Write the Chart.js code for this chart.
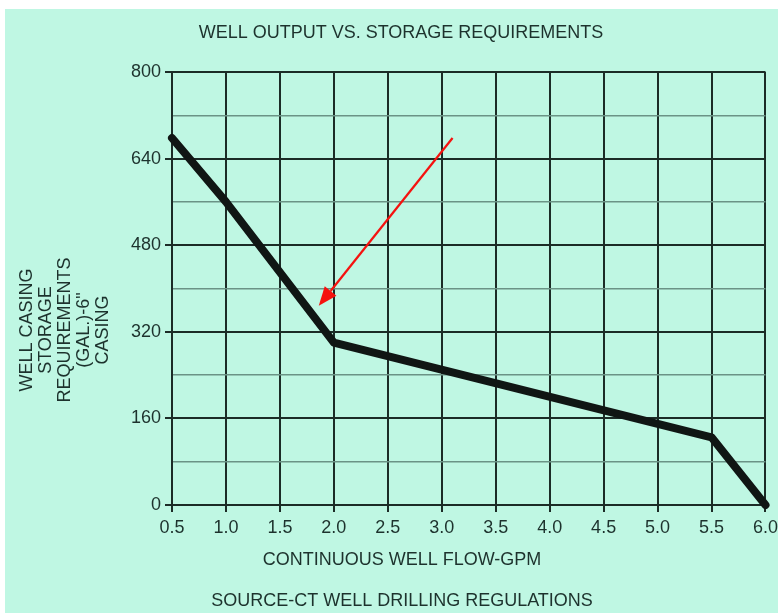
<!DOCTYPE html>
<html>
<head>
<meta charset="utf-8">
<script src="https://cdn.jsdelivr.net/npm/chart.js@4.4.1/dist/chart.umd.min.js"></script>
<style>
html, body { margin: 0; padding: 0; background: #fff; }
#wrap { width: 783px; height: 613px; }
</style>
</head>
<body>
<div id="wrap"><canvas id="well-chart" width="783" height="613"></canvas></div>
<script>
// flow (gpm) vs. casing storage (gal), break points
const flowGpm = [0.5, 1.0, 2.0, 5.5, 6.0];
const storageGal = [678, 560, 300, 125, 0];
const yMajorTicks = [0, 160, 320, 480, 640, 800];

// red arrow, tail and head in data units
const arrowFrom = [3.1, 678];
const arrowTo = [1.86, 368];

const chartTitle = "WELL OUTPUT VS. STORAGE REQUIREMENTS";
const xTitle = "CONTINUOUS WELL FLOW-GPM";
const yTitle = ["WELL CASING", "STORAGE", "REQUIREMENTS", "(GAL.)-6\"", "CASING"];
const sourceNote = "SOURCE-CT WELL DRILLING REGULATIONS";

const FONT = "'Liberation Sans', Arial, sans-serif";
const TEXT = "#1d322d";
const DARK = "#1c2c27";
const MINOR = "#6b9386";

const isMajor = v => yMajorTicks.includes(v);

const decorations = {
    id: "decorations",
    beforeDraw(chart) {
        const ctx = chart.ctx;
        ctx.save();
        ctx.fillStyle = "#bff7e3";
        ctx.fillRect(5, 9, 773, 604);
        ctx.restore();
    },
    afterDatasetsDraw(chart) {
        const ctx = chart.ctx;
        const x = chart.scales.x, y = chart.scales.y;
        const x1 = x.getPixelForValue(arrowFrom[0]), y1 = y.getPixelForValue(arrowFrom[1]);
        const x2 = x.getPixelForValue(arrowTo[0]), y2 = y.getPixelForValue(arrowTo[1]);
        const ang = Math.atan2(y2 - y1, x2 - x1);
        const len = 19, half = 7.5;
        const bx = x2 - len * Math.cos(ang), by = y2 - len * Math.sin(ang);

        ctx.save();
        ctx.strokeStyle = "#f5120f";
        ctx.fillStyle = "#f5120f";
        ctx.lineWidth = 2.2;
        ctx.beginPath();
        ctx.moveTo(x1, y1);
        ctx.lineTo(bx, by);
        ctx.stroke();
        ctx.beginPath();
        ctx.moveTo(x2, y2);
        ctx.lineTo(bx + half * Math.sin(ang), by - half * Math.cos(ang));
        ctx.lineTo(bx - half * Math.sin(ang), by + half * Math.cos(ang));
        ctx.closePath();
        ctx.fill();
        ctx.restore();
    },
    afterDraw(chart) {
        const ctx = chart.ctx;
        ctx.save();
        ctx.fillStyle = TEXT;
        ctx.font = "18px " + FONT;
        ctx.textAlign = "center";
        ctx.textBaseline = "middle";
        ctx.fillText(chartTitle, 401, 33);
        ctx.fillText(xTitle, 402, 560);
        ctx.fillText(sourceNote, 402, 601);

        yTitle.forEach((line, i) => {
            ctx.save();
            ctx.translate(27 + i * 19, 330);
            ctx.rotate(-Math.PI / 2);
            ctx.fillText(line, 0, 0);
            ctx.restore();
        });
        ctx.restore();
    }
};

new Chart(
    document.getElementById("well-chart"),
    {
        type: "line",
        data: {
            datasets: [{
                label: "Storage",
                data: flowGpm.map((f, i) => ({ x: f, y: storageGal[i] })),
                borderColor: "#101614",
                borderWidth: 8,
                borderJoinStyle: "round",
                borderCapStyle: "round",
                pointRadius: 0,
                tension: 0,
                clip: false
            }]
        },
        options: {
            responsive: false,
            animation: false,
            devicePixelRatio: 1,
            layout: { padding: { top: 72, right: 13, bottom: 78, left: 0 } },
            plugins: {
                legend: { display: false },
                tooltip: { enabled: false }
            },
            scales: {
                x: {
                    type: "linear",
                    min: 0.5,
                    max: 6.0,
                    afterFit: scale => { scale.height = 30; },
                    border: { display: true, color: DARK, width: 2 },
                    grid: { color: DARK, lineWidth: 2, tickLength: 7, tickColor: DARK },
                    ticks: {
                        stepSize: 0.5,
                        padding: 5,
                        color: TEXT,
                        font: { family: FONT, size: 18 },
                        callback: v => v.toFixed(1)
                    }
                },
                y: {
                    min: 0,
                    max: 800,
                    afterFit: scale => { scale.width = 172; },
                    border: { display: true, color: DARK, width: 2 },
                    grid: {
                        color: c => isMajor(c.tick.value) ? DARK : MINOR,
                        lineWidth: c => isMajor(c.tick.value) ? 2 : 1.5,
                        tickLength: 7,
                        tickColor: c => isMajor(c.tick.value) ? DARK : "rgba(0,0,0,0)"
                    },
                    ticks: {
                        stepSize: 80,
                        padding: 4,
                        color: TEXT,
                        font: { family: FONT, size: 18 },
                        callback: v => isMajor(v) ? String(v) : ""
                    }
                }
            }
        },
        plugins: [decorations]
    }
);
</script>
</body>
</html>
